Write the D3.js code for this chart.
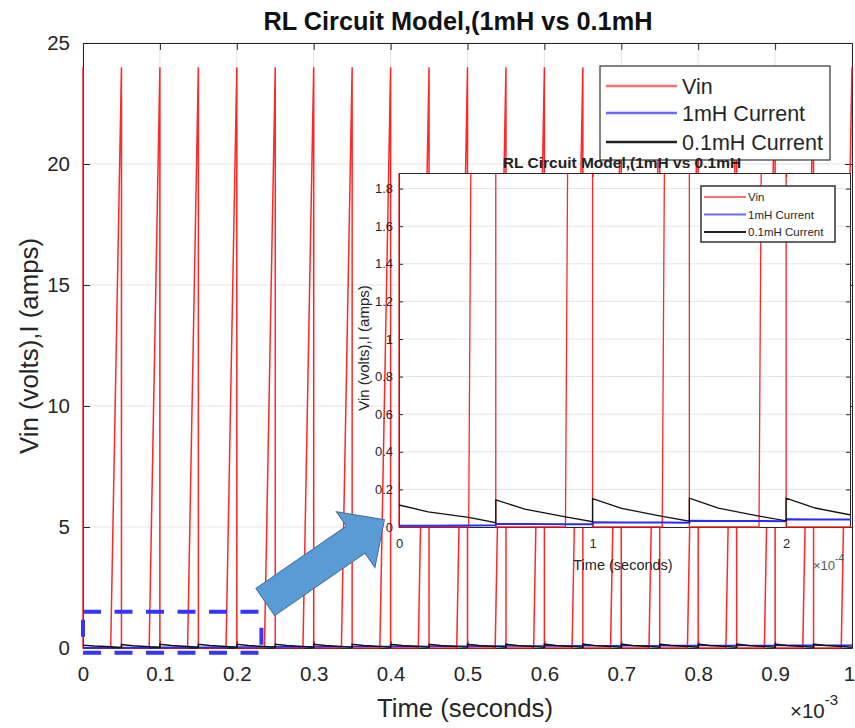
<!DOCTYPE html>
<html><head><meta charset="utf-8">
<script src="https://cdn.jsdelivr.net/npm/d3@7/dist/d3.min.js"></script>
<style>
html,body{margin:0;padding:0;background:#fff;}
svg{display:block;font-family:"Liberation Sans",Arial,Helvetica,sans-serif;}
</style></head><body>
<svg id="chart" width="855" height="728"></svg>
<script>
// ---------------- DATA ----------------
const titleText = "RL Circuit Model,(1mH vs 0.1mH";
const xLabelText = "Time (seconds)";
const yLabelText = "Vin (volts),I (amps)";
const seriesNames = ["Vin", "1mH Current", "0.1mH Current"];

// Vin breakpoints, time in ms
const vinT = [0, 0,
  0.036, 0.05, 0.05,
  0.086, 0.1, 0.1,
  0.136, 0.15, 0.15,
  0.186, 0.2, 0.2,
  0.236, 0.25, 0.25,
  0.286, 0.3, 0.3,
  0.336, 0.35, 0.35,
  0.386, 0.4, 0.4,
  0.436, 0.45, 0.45,
  0.486, 0.5, 0.5,
  0.536, 0.55, 0.55,
  0.586, 0.6, 0.6,
  0.636, 0.65, 0.65,
  0.686, 0.7, 0.7,
  0.736, 0.75, 0.75,
  0.786, 0.8, 0.8,
  0.836, 0.85, 0.85,
  0.886, 0.9, 0.9,
  0.936, 0.95, 0.95,
  0.986, 1.0];
const vinV = [24, 0,
  0, 24, 0,  0, 24, 0,  0, 24, 0,  0, 24, 0,  0, 24, 0,
  0, 24, 0,  0, 24, 0,  0, 24, 0,  0, 24, 0,  0, 24, 0,
  0, 24, 0,  0, 24, 0,  0, 24, 0,  0, 24, 0,  0, 24, 0,
  0, 24, 0,  0, 24, 0,  0, 24, 0,  0, 24, 0,
  0, 24];

// current samples, time in ms
const curT = [
  0, 0.015, 0.036, 0.05,   0.05, 0.065, 0.086, 0.1,
  0.1, 0.115, 0.136, 0.15, 0.15, 0.165, 0.186, 0.2,
  0.2, 0.215, 0.236, 0.25, 0.25, 0.265, 0.286, 0.3,
  0.3, 0.315, 0.336, 0.35, 0.35, 0.365, 0.386, 0.4,
  0.4, 0.415, 0.436, 0.45, 0.45, 0.465, 0.486, 0.5,
  0.5, 0.515, 0.536, 0.55, 0.55, 0.565, 0.586, 0.6,
  0.6, 0.615, 0.636, 0.65, 0.65, 0.665, 0.686, 0.7,
  0.7, 0.715, 0.736, 0.75, 0.75, 0.765, 0.786, 0.8,
  0.8, 0.815, 0.836, 0.85, 0.85, 0.865, 0.886, 0.9,
  0.9, 0.915, 0.936, 0.95, 0.95, 0.965, 0.986, 1.0];
const i1mH = [
  0.006, 0.007, 0.008, 0.009,  0.016, 0.016, 0.015, 0.015,
  0.025, 0.024, 0.024, 0.023,  0.033, 0.032, 0.032, 0.031,
  0.041, 0.040, 0.040, 0.039,  0.048, 0.047, 0.047, 0.046,
  0.055, 0.054, 0.054, 0.053,  0.061, 0.060, 0.060, 0.059,
  0.067, 0.066, 0.066, 0.065,  0.073, 0.072, 0.072, 0.071,
  0.078, 0.077, 0.077, 0.076,  0.083, 0.082, 0.082, 0.081,
  0.088, 0.087, 0.087, 0.086,  0.092, 0.091, 0.091, 0.090,
  0.096, 0.095, 0.095, 0.094,  0.100, 0.099, 0.099, 0.098,
  0.104, 0.103, 0.103, 0.102,  0.107, 0.106, 0.106, 0.105,
  0.110, 0.109, 0.109, 0.108,  0.113, 0.112, 0.112, 0.111];
const i01mH = [
  0.117, 0.081, 0.051, 0.023,  0.144, 0.095, 0.054, 0.028,
  0.151, 0.099, 0.057, 0.031,  0.153, 0.100, 0.058, 0.033,
  0.154, 0.101, 0.059, 0.034,  0.155, 0.101, 0.059, 0.034,
  0.155, 0.102, 0.060, 0.035,  0.156, 0.102, 0.060, 0.035,
  0.156, 0.102, 0.060, 0.035,  0.156, 0.103, 0.060, 0.035,
  0.156, 0.103, 0.061, 0.036,  0.157, 0.103, 0.061, 0.036,
  0.157, 0.103, 0.061, 0.036,  0.157, 0.103, 0.061, 0.036,
  0.157, 0.104, 0.061, 0.036,  0.157, 0.104, 0.061, 0.036,
  0.157, 0.104, 0.061, 0.036,  0.158, 0.104, 0.061, 0.036,
  0.158, 0.104, 0.061, 0.036,  0.158, 0.104, 0.062, 0.036];

const mainXTicks = [0, 0.1, 0.2, 0.3, 0.4, 0.5, 0.6, 0.7, 0.8, 0.9, 1];   // x 10^-3 s
const mainYTicks = [0, 5, 10, 15, 20, 25];
const insetXTicks = [0, 1, 2];                                             // x 10^-4 s
const insetYTicks = [0, 0.2, 0.4, 0.6, 0.8, 1, 1.2, 1.4, 1.6, 1.8];
const mainXExp = "-3";
const insetXExp = "-4";
// zoomed region (ms, value) marked by the dashed box
const zoomT = [0, 0.232];
const zoomV = [-0.2, 1.5];
// arrow from/to (ms, value) in main-chart coordinates
const arrowFrom = [0.237, 1.9];
const arrowTo = [0.392, 5.3];

// ---------------- DRAWING ----------------
const svg = d3.select("#chart");
const ink = "#262626";
const colVin = "#ff1010", colL1 = "#2a2aff", colL01 = "#111111";

const vinData = vinT.map((t, i) => ({t, v: vinV[i]}));
const l1Data = curT.map((t, i) => ({t, v: i1mH[i]}));
const l01Data = curT.map((t, i) => ({t, v: i01mH[i]}));

function styleAxis(g, fs) {
  g.attr("font-family", null).attr("font-size", null);
  g.selectAll(".domain").attr("stroke", ink).attr("stroke-width", 1);
  g.selectAll(".tick line").attr("stroke", ink).attr("stroke-width", 1);
  g.selectAll(".tick text").attr("fill", ink).style("font-size", fs + "px");
}

function panel(root, opt) {
  const {x, y, xTicks, yTicks, fs, tick, padY, padX, clipId, lw, background} = opt;
  const [x0, x1] = x.range(), [y0, y1] = y.range(); // y0 bottom, y1 top
  const g = root.append("g");
  if (background) {
    g.append("rect").attr("x", x0).attr("y", y1).attr("width", x1 - x0).attr("height", y0 - y1).attr("fill", "#fff");
  }
  // grid
  const grid = g.append("g").attr("stroke", "#e4e4e4").attr("stroke-width", 1);
  grid.selectAll(".gy").data(yTicks).join("line")
    .attr("x1", x0).attr("x2", x1).attr("y1", d => y(d)).attr("y2", d => y(d));
  grid.selectAll(".gx").data(xTicks).join("line")
    .attr("y1", y0).attr("y2", y1).attr("x1", d => x(d)).attr("x2", d => x(d));
  // axes
  const fmt = d3.format("~g");
  const ax = g.append("g");
  ax.append("g").attr("transform", `translate(${x0},0)`)
    .call(d3.axisLeft(y).tickValues(yTicks).tickSize(-tick).tickSizeOuter(0).tickPadding(padY).tickFormat(fmt))
    .call(s => styleAxis(s, fs));
  const bottom = ax.append("g").attr("transform", `translate(0,${y0})`)
    .call(d3.axisBottom(x).tickValues(xTicks).tickSize(-tick).tickSizeOuter(0).tickPadding(padX).tickFormat(fmt))
    .call(s => styleAxis(s, fs));
  if (opt.lastShift) {
    bottom.selectAll(".tick text").filter(d => d === xTicks[xTicks.length - 1]).attr("dx", opt.lastShift);
  }
  ax.append("g").attr("transform", `translate(${x1},0)`)
    .call(d3.axisRight(y).tickValues(yTicks).tickSize(-tick).tickSizeOuter(0).tickFormat(""))
    .call(s => styleAxis(s, fs));
  ax.append("g").attr("transform", `translate(0,${y1})`)
    .call(d3.axisTop(x).tickValues(xTicks).tickSize(-tick).tickSizeOuter(0).tickFormat(""))
    .call(s => styleAxis(s, fs));
  // clip
  root.append("clipPath").attr("id", clipId).append("rect")
    .attr("x", x0 - 1).attr("y", y1).attr("width", x1 - x0 + 2).attr("height", y0 - y1 + 2);
  const data = g.append("g").attr("clip-path", `url(#${clipId})`);
  const line = d3.line().x(d => opt.tx(d.t)).y(d => y(d.v));
  data.append("path").datum(vinData).attr("d", line).attr("fill", "none")
    .attr("stroke", colVin).attr("stroke-width", lw[0]).attr("stroke-opacity", 0.9);
  data.append("path").datum(l1Data).attr("d", line).attr("fill", "none")
    .attr("stroke", colL1).attr("stroke-width", lw[1]);
  data.append("path").datum(l01Data).attr("d", line).attr("fill", "none")
    .attr("stroke", colL01).attr("stroke-width", lw[2]);
  return g;
}

function legend(root, o) {
  const g = root.append("g");
  g.append("rect").attr("x", o.x).attr("y", o.y).attr("width", o.w).attr("height", o.h)
    .attr("fill", "#fff").attr("stroke", "#333").attr("stroke-width", o.bw);
  const cols = ["#ff7070", "#6a6aff", "#222"];
  seriesNames.forEach((n, i) => {
    const cy = o.rows[i];
    g.append("line").attr("x1", o.l0).attr("x2", o.l1).attr("y1", cy).attr("y2", cy)
      .attr("stroke", cols[i]).attr("stroke-width", o.lw);
    g.append("text").attr("x", o.tx).attr("y", cy).attr("dy", "0.35em")
      .attr("fill", ink).style("font-size", o.fs + "px").text(n);
  });
}

// ----- main chart -----
const mainX = d3.scaleLinear().domain([0, 1]).range([83, 852]);
const mainY = d3.scaleLinear().domain([0, 25]).range([648, 43]);
panel(svg, {x: mainX, y: mainY, xTicks: mainXTicks, yTicks: mainYTicks, fs: 20.5, tick: 7,
  padY: 13, padX: 18, clipId: "clipMain", lw: [1.5, 1.6, 1.5], tx: t => mainX(t), lastShift: -3});

svg.append("text").attr("x", 458).attr("y", 30).attr("text-anchor", "middle")
  .attr("fill", "#111").style("font-size", "25.3px").style("font-weight", "bold").text(titleText);
svg.append("text").attr("transform", "translate(38,346) rotate(-90)").attr("text-anchor", "middle")
  .attr("fill", ink).style("font-size", "25.8px").text(yLabelText);
svg.append("text").attr("x", 465).attr("y", 717).attr("text-anchor", "middle")
  .attr("fill", ink).style("font-size", "25.7px").text(xLabelText);
const e1 = svg.append("text").attr("x", 790).attr("y", 718).attr("fill", ink).style("font-size", "20.5px");
e1.append("tspan").text("\u00d710");
e1.append("tspan").attr("dy", -13).style("font-size", "15px").text(mainXExp);

legend(svg, {x: 600, y: 66, w: 230, h: 94, bw: 1.2, rows: [86, 113, 142], l0: 606, l1: 677, lw: 2.5, tx: 682, fs: 21.5});

// ----- dashed zoom box -----
const zb = svg.append("g").attr("stroke", "#3535ff").attr("stroke-width", 4).attr("fill", "none");
const bx0 = mainX(zoomT[0]), bx1 = mainX(zoomT[1]), byT = mainY(zoomV[1]), byB = mainY(zoomV[0]);
zb.append("line").attr("x1", bx0).attr("x2", bx1 + 2).attr("y1", byT).attr("y2", byT).attr("stroke-dasharray", "18,13.5");
zb.append("line").attr("x1", bx0).attr("x2", bx1 - 2).attr("y1", byB).attr("y2", byB).attr("stroke-dasharray", "18,13.5");
zb.append("line").attr("x1", bx0).attr("x2", bx0).attr("y1", byT).attr("y2", byB).attr("stroke-dasharray", "0,8,17,20");
zb.append("line").attr("x1", bx1).attr("x2", bx1).attr("y1", byT).attr("y2", byB).attr("stroke-dasharray", "0,16,17,20");

// ----- inset -----
const insX = d3.scaleLinear().domain([0, 2.33]).range([399, 850]);   // x 10^-4 s
const insY = d3.scaleLinear().domain([0, 1.883]).range([527, 173]);
panel(svg, {x: insX, y: insY, xTicks: insetXTicks, yTicks: insetYTicks, fs: 13, tick: 4,
  padY: 6, padX: 12, clipId: "clipInset", lw: [1.3, 2, 1.3], tx: t => insX(t * 10), background: true});

svg.append("text").attr("x", 622).attr("y", 168).attr("text-anchor", "middle")
  .attr("fill", "#222").style("font-size", "15.5px").style("font-weight", "bold").text(titleText);
svg.append("text").attr("transform", "translate(369,348) rotate(-90)").attr("text-anchor", "middle")
  .attr("fill", ink).style("font-size", "15px").text(yLabelText);
svg.append("text").attr("x", 623).attr("y", 570).attr("text-anchor", "middle")
  .attr("fill", ink).style("font-size", "14.5px").text(xLabelText);
const e2 = svg.append("text").attr("x", 813).attr("y", 570).attr("fill", "#555").style("font-size", "13px");
e2.append("tspan").text("\u00d710");
e2.append("tspan").attr("dy", -8).style("font-size", "10px").text(insetXExp);

legend(svg, {x: 701, y: 186, w: 134, h: 56, bw: 1.5, rows: [197, 214.5, 232], l0: 704, l1: 746, lw: 2, tx: 748, fs: 11.5});

// ----- arrow -----
const ax0 = mainX(arrowFrom[0]), ay0 = mainY(arrowFrom[1]);
const ax1 = mainX(arrowTo[0]), ay1 = mainY(arrowTo[1]);
const L = Math.hypot(ax1 - ax0, ay1 - ay0);
const ang = Math.atan2(ay1 - ay0, ax1 - ax0) * 180 / Math.PI;
const hw = 16.5, headW = 34, headL = 35;
const shape = [[0, -hw], [L - headL, -hw], [L - headL, -headW], [L, 0], [L - headL, headW], [L - headL, hw], [0, hw]];
svg.append("polygon")
  .attr("transform", `translate(${ax0},${ay0}) rotate(${ang})`)
  .attr("points", shape.map(p => p.join(",")).join(" "))
  .attr("fill", "#5b9bd5").attr("stroke", "#41719c").attr("stroke-width", 1);
</script>
</body></html>
